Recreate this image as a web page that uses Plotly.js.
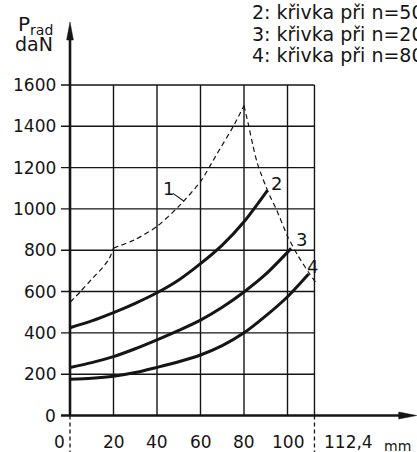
<!DOCTYPE html>
<html>
<head>
<meta charset="utf-8">
<script src="https://cdn.plot.ly/plotly-3.0.1.min.js"></script>
<style>html,body{margin:0;padding:0;background:#fff;}#chart{width:417px;height:452px;}</style>
</head>
<body>
<div id="chart"></div>
<script>
// ---- data ----
const xTickVals = [0, 20, 40, 60, 80, 100];
const xTickText = ['0', '20', '40', '60', '80', '100'];
const xEndVal = 112.4;
const xEndText = '112,4';
const xUnit = 'mm';
const yTickVals = [0, 200, 400, 600, 800, 1000, 1200, 1400, 1600];
const yTickText = ['0', '200', '400', '600', '800', '1000', '1200', '1400', '1600'];

// curve 1 (dashed envelope), three segments joined at kinks
const c1aX = [0, 5, 10, 15, 18, 20];
const c1aY = [548, 602, 660, 716, 758, 810];
const c1bX = [20, 30, 40, 50, 60, 67.5, 75, 80];
const c1bY = [810, 852, 915, 1012, 1132, 1265, 1398, 1500];
const c1cX = [80, 82, 84, 86, 88, 90, 92, 95, 100, 105, 110, 113.3];
const c1cY = [1500, 1410, 1312, 1225, 1165, 1110, 1060, 995, 868, 770, 688, 640];

// curve 2: n=50
const c2X = [0, 10, 20, 30, 40, 50, 60, 70, 80, 90.8];
const c2Y = [425, 458, 498, 543, 594, 656, 735, 825, 938, 1090];
// curve 3: n=20
const c3X = [0, 10, 20, 30, 40, 50, 60, 70, 80, 90, 101.7];
const c3Y = [232, 256, 285, 323, 366, 412, 462, 524, 598, 684, 809];
// curve 4: n=80
const c4X = [0, 10, 20, 30, 40, 50, 60, 70, 80, 90, 100, 109.7];
const c4Y = [175, 180, 190, 208, 233, 260, 293, 338, 400, 482, 575, 685];

const curveLabels = ['1', '2', '3', '4'];
const curveLabelX = [45.2, 95, 106.3, 111.3];
const curveLabelY = [1100, 1124, 853, 720];
const leaderX = [47.3, 52.3];
const leaderY = [1075, 1038];

const legendLines = ['2: křivka při n=50', '3: křivka při n=20', '4: křivka při n=80'];

// ---- geometry ----
const W = 417, H = 452;
const X0_PX = 70, PX_X = 2.175;
const Y0_PX = 415.5, PX_Y = 0.2066;
const xRange = [-X0_PX / PX_X, (W - X0_PX) / PX_X];
const yRange = [-(H - Y0_PX) / PX_Y, Y0_PX / PX_Y];
const FONT = 'DejaVu Sans';
const INK = '#151515';

const tickLen = 9 / PX_X;
const gridTop = yTickVals[yTickVals.length - 1];

const shapes = [];
const gridLine = {color: INK, width: 1.4};
// horizontal grid lines (with the outside tick)
yTickVals.forEach(v => {
  if (v === 0) return;
  shapes.push({type: 'line', xref: 'x', yref: 'y', x0: -tickLen, x1: xEndVal, y0: v, y1: v, line: gridLine});
});
// vertical grid lines
xTickVals.concat([xEndVal]).forEach(v => {
  if (v === 0) return;
  shapes.push({type: 'line', xref: 'x', yref: 'y', x0: v, x1: v, y0: 0, y1: gridTop, line: gridLine});
});
// dashed extensions below the axis
[0, xEndVal].forEach(v => {
  shapes.push({type: 'line', xref: 'x', yref: 'y', x0: v, x1: v, y0: 0, y1: yRange[0],
    line: {color: INK, width: 1.3, dash: '4px,3px'}});
});
// axes
const yTip = (Y0_PX - 22) / PX_Y;
const xTip = xRange[1] - 0.3 / PX_X;
const arrLenY = 18 / PX_Y, arrHalfX = 3.4 / PX_X;
const arrLenX = 18 / PX_X, arrHalfY = 3.5 / PX_Y;
shapes.push({type: 'line', xref: 'x', yref: 'y', x0: 0, x1: 0, y0: 0, y1: yTip - arrLenY + 2,
  line: {color: INK, width: 2.6}});
shapes.push({type: 'line', xref: 'x', yref: 'y', x0: -tickLen, x1: xTip - arrLenX + 0.5, y0: 0, y1: 0,
  line: {color: INK, width: 2.6}});
shapes.push({type: 'path', xref: 'x', yref: 'y',
  path: `M ${-arrHalfX},${yTip - arrLenY} L 0,${yTip} L ${arrHalfX},${yTip - arrLenY} Z`,
  fillcolor: INK, line: {color: INK, width: 0.5}});
shapes.push({type: 'path', xref: 'x', yref: 'y',
  path: `M ${xTip - arrLenX},${-arrHalfY} L ${xTip},0 L ${xTip - arrLenX},${arrHalfY} Z`,
  fillcolor: INK, line: {color: INK, width: 0.5}});
// leader line for label 1
shapes.push({type: 'line', xref: 'x', yref: 'y', x0: leaderX[0], x1: leaderX[1], y0: leaderY[0], y1: leaderY[1],
  line: {color: INK, width: 1.1}});

const annotations = [];
const txt = (o) => Object.assign({showarrow: false, font: {family: FONT, size: 17, color: INK}}, o);
// y tick labels
yTickVals.forEach((v, i) => annotations.push(txt({xref: 'x', yref: 'y', x: 0, y: v, xshift: -12,
  xanchor: 'right', yanchor: 'middle', text: yTickText[i]})));
// x tick labels
const xLabY = (Y0_PX - 442) / PX_Y;
xTickVals.forEach((v, i) => annotations.push(txt({xref: 'x', yref: 'y', x: v, y: xLabY,
  xshift: v === 0 ? -11 : 0, xanchor: 'center', yanchor: 'middle', text: xTickText[i]})));
annotations.push(txt({xref: 'x', yref: 'y', x: xEndVal, y: xLabY, xshift: 8, xanchor: 'left', yanchor: 'middle', text: xEndText}));
annotations.push(txt({xref: 'paper', yref: 'paper', x: 397 / W, y: 1 - 446 / H, xanchor: 'center', yanchor: 'middle',
  text: xUnit, font: {family: FONT, size: 14, color: INK}}));
// y axis title
annotations.push(txt({xref: 'paper', yref: 'paper', x: 16 / W, y: 1 - 24.5 / H, xanchor: 'left', yanchor: 'middle',
  text: 'P<sub>rad</sub>', font: {family: FONT, size: 20, color: INK}}));
annotations.push(txt({xref: 'paper', yref: 'paper', x: 34 / W, y: 1 - 44.5 / H, xanchor: 'center', yanchor: 'middle',
  text: 'daN', font: {family: FONT, size: 19, color: INK}}));
// legend text
legendLines.forEach((s, i) => annotations.push(txt({xref: 'paper', yref: 'paper', x: 250 / W, y: 1 - (12.3 + i * 21.4) / H,
  xanchor: 'left', yanchor: 'middle', text: s, font: {family: FONT, size: 19, color: INK}})));
// curve labels
curveLabels.forEach((s, i) => annotations.push(txt({xref: 'x', yref: 'y', x: curveLabelX[i], y: curveLabelY[i],
  xanchor: 'center', yanchor: 'middle', text: s, font: {family: FONT, size: 18, color: INK}})));

const solid = {color: INK, width: 3, shape: 'spline', smoothing: 0.8};
const dashed = {color: INK, width: 1.2, dash: '5px,3.5px', shape: 'spline', smoothing: 0.6};
const traces = [
  {x: c1aX, y: c1aY, mode: 'lines', line: dashed, hoverinfo: 'skip'},
  {x: c1bX, y: c1bY, mode: 'lines', line: dashed, hoverinfo: 'skip'},
  {x: c1cX, y: c1cY, mode: 'lines', line: dashed, hoverinfo: 'skip'},
  {x: c2X, y: c2Y, mode: 'lines', line: solid, hoverinfo: 'skip'},
  {x: c3X, y: c3Y, mode: 'lines', line: solid, hoverinfo: 'skip'},
  {x: c4X, y: c4Y, mode: 'lines', line: solid, hoverinfo: 'skip'}
];

const layout = {
  width: W, height: H,
  margin: {l: 0, r: 0, t: 0, b: 0},
  paper_bgcolor: '#fff', plot_bgcolor: '#fff',
  showlegend: false,
  xaxis: {range: xRange, visible: false, fixedrange: true},
  yaxis: {range: yRange, visible: false, fixedrange: true},
  shapes: shapes,
  annotations: annotations
};
Plotly.newPlot('chart', traces, layout, {displayModeBar: false, staticPlot: true});
</script>
</body>
</html>
